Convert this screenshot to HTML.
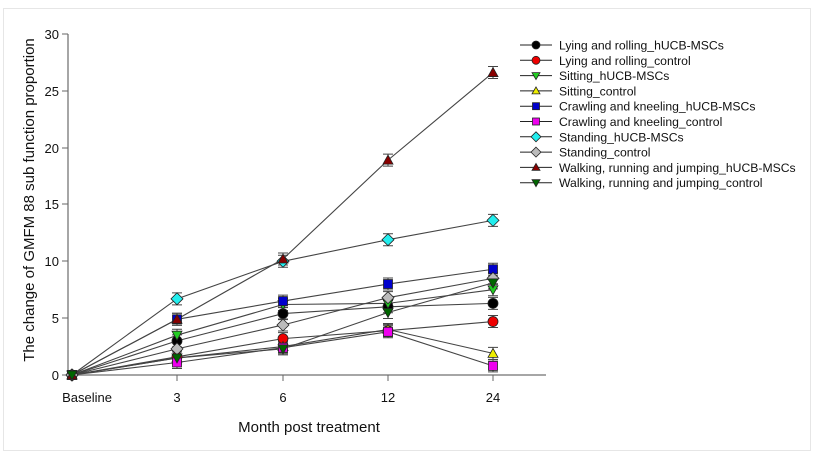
<!DOCTYPE html><html><head><style>body{margin:0;background:#fff}svg{display:block}text{font-family:"Liberation Sans",Arial,sans-serif;fill:#111}</style></head><body>
<svg width="814" height="461" viewBox="0 0 814 461">
<rect x="3.5" y="8.5" width="807" height="442" fill="#fff" stroke="#e6e6e6"/>
<g stroke="#888" stroke-width="1.5" fill="none">
<line x1="68" y1="375" x2="546" y2="375"/><line x1="68" y1="34" x2="68" y2="375"/>
</g>
<g stroke="#666" stroke-width="1">
<line x1="62" y1="375" x2="68" y2="375"/><line x1="62" y1="318" x2="68" y2="318"/><line x1="62" y1="261" x2="68" y2="261"/><line x1="62" y1="204" x2="68" y2="204"/><line x1="62" y1="148" x2="68" y2="148"/><line x1="62" y1="91" x2="68" y2="91"/><line x1="62" y1="34" x2="68" y2="34"/>
<line x1="177" y1="375" x2="177" y2="381"/><line x1="283" y1="375" x2="283" y2="381"/><line x1="388" y1="375" x2="388" y2="381"/><line x1="493" y1="375" x2="493" y2="381"/>
</g>
<g font-size="13" text-anchor="end">
<text x="59" y="380">0</text><text x="59" y="323">5</text><text x="59" y="266">10</text><text x="59" y="209">15</text><text x="59" y="153">20</text><text x="59" y="96">25</text><text x="59" y="39">30</text>
</g>
<g font-size="13" text-anchor="middle">
<text x="87" y="402">Baseline</text><text x="177" y="402">3</text><text x="283" y="402">6</text><text x="388" y="402">12</text><text x="493" y="402">24</text>
<text x="309" y="432" font-size="15">Month post treatment</text>
<text transform="translate(34,200) rotate(-90)" font-size="15">The change of GMFM 88 sub function proportion</text>
</g>
<g id="plot"></g>
<g id="leg"></g>
</svg>
<script>
const X=[72,177,283,388,493],Y=v=>375-11.37*v;
const S=[
["Lying and rolling_hUCB-MSCs","#000","c",[0,3.0,5.4,6.0,6.3]],
["Lying and rolling_control","#e00","c",[0,1.6,3.2,3.9,4.7]],
["Sitting_hUCB-MSCs","#2c2","d",[0,3.5,6.2,6.3,7.5]],
["Sitting_control","#ee0","u",[0,1.5,2.5,4.0,1.9]],
["Crawling and kneeling_hUCB-MSCs","#00c","s",[0,4.9,6.5,8.0,9.3]],
["Crawling and kneeling_control","#e0e","s",[0,1.1,2.4,3.8,0.8]],
["Standing_hUCB-MSCs","#2ee","m",[0,6.7,10.0,11.9,13.6]],
["Standing_control","#bbb","m",[0,2.3,4.4,6.8,8.5]],
["Walking, running and jumping_hUCB-MSCs","#800","u",[0,4.9,10.2,18.9,26.6]],
["Walking, running and jumping_control","#060","d",[0,1.5,2.3,5.5,8.1]]];
function mk(t,c,x,y,r){r=r||5;let a=`fill="${c}" stroke="#222" stroke-width="0.8"`;
if(t=="c")return`<circle cx="${x}" cy="${y}" r="${r}" ${a}/>`;
if(t=="s")return`<rect x="${x-r+0.5}" y="${y-r+0.5}" width="${2*r-1}" height="${2*r-1}" ${a}/>`;
if(t=="m")return`<polygon points="${x},${y-r-1} ${x+r+1},${y} ${x},${y+r+1} ${x-r-1},${y}" ${a}/>`;
if(t=="u")return`<polygon points="${x},${y-r} ${x+r},${y+r-1} ${x-r},${y+r-1}" ${a}/>`;
return`<polygon points="${x},${y+r} ${x+r},${y-r+1} ${x-r},${y-r+1}" ${a}/>`;}
let p="",l="",m="";
S.forEach((s,i)=>{const pts=s[3].map((v,j)=>X[j]+","+Y(v)).join(" ");
l+=`<polyline points="${pts}" fill="none" stroke="#444" stroke-width="1.1"/>`;
s[3].forEach((v,j)=>{if(j>0){const e=6;l+=`<path d="M${X[j]} ${Y(v)-e}V${Y(v)+e}M${X[j]-5} ${Y(v)-e}H${X[j]+5}M${X[j]-5} ${Y(v)+e}H${X[j]+5}" stroke="#444" stroke-width="1"/>`;}
m+=mk(s[2],s[1],X[j],Y(v));});
const ly=45+i*15.3;
p+=`<line x1="520" y1="${ly}" x2="552" y2="${ly}" stroke="#222"/>`+mk(s[2],s[1],536,ly,4)+`<text x="559" y="${ly+4.5}" font-size="12.2">${s[0]}</text>`;});
document.getElementById("plot").innerHTML=l+m;document.getElementById("leg").innerHTML=p;
</script>
</body></html>
